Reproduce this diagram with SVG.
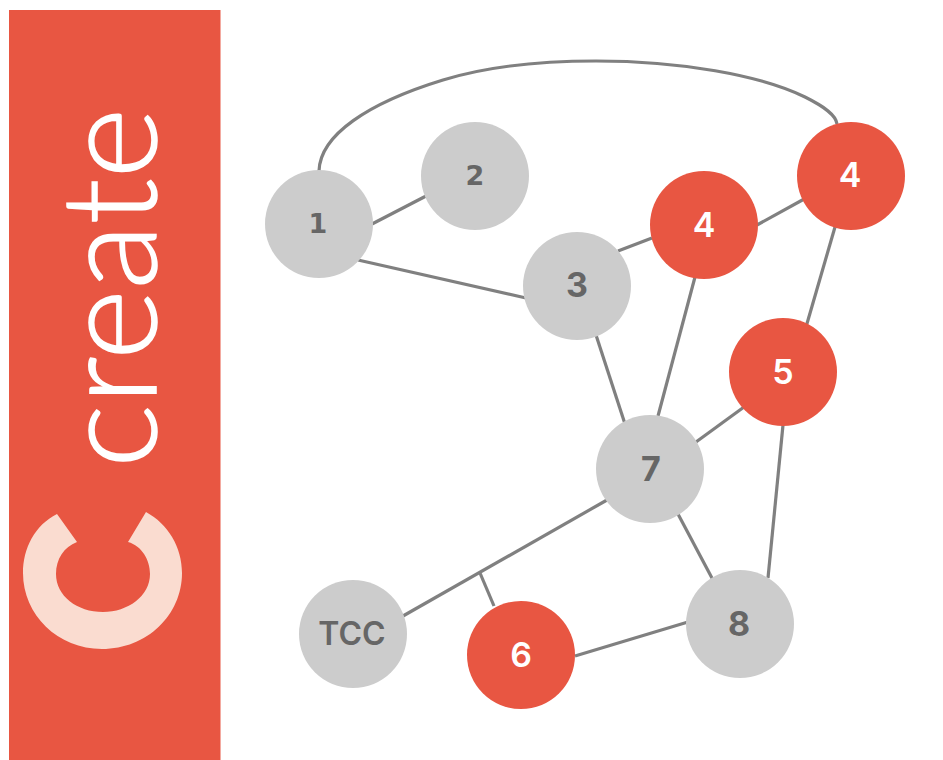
<svg xmlns="http://www.w3.org/2000/svg" width="943" height="760" viewBox="0 0 943 760">
<style>
.edge{fill:none;stroke:#808080;stroke-width:3.2}
.g{fill:#cccccc}
.r{fill:#e85642}
text{font-family:"Inter","Liberation Sans",sans-serif;text-anchor:middle}
.lg{fill:#666666;font-weight:700;font-size:34px}
.lr{fill:#ffffff;font-weight:600;font-size:34px}
.sm{font-family:"DejaVu Sans",sans-serif;font-size:27px}
</style>
<rect width="943" height="760" fill="#ffffff"/>
<rect x="9" y="10" width="211.500" height="750" fill="#e85642"/>
<text transform="translate(156 468) rotate(-90)" x="0" y="0" style="text-anchor:start;font-family:Lato,'Liberation Sans',sans-serif;font-weight:300;font-size:132px" fill="#ffffff" stroke="#ffffff" stroke-width="1.500" textLength="360" lengthAdjust="spacingAndGlyphs">create</text>
<path d="M57 514 C35 525 23 548 23 573 C23 615 58 649 102 649 C147 649 182 615 182 573 C182 547 168 524 146 512 L128 542 C142 546 150 560 150 574 C150 596 128 612 103 612 C77 612 56 596 56 574 C56 559 64 547 77 542 Z" fill="#fadcd0"/>
<g id="connectors">
<path class="edge" d="M319 171 C320 135 368 103 443 80 C485 67 540 61 596 61 C680 61 760 75 805 97 C825 107 836 115 837 124"/>
<path class="edge" d="M372 224 L428 195"/>
<path class="edge" d="M358 260 L526 298"/>
<path class="edge" d="M618 251 L652 238"/>
<path class="edge" d="M757 225 L806 198"/>
<path class="edge" d="M596 335 L625 424"/>
<path class="edge" d="M695 277 L658 416"/>
<path class="edge" d="M835 227 L806 327"/>
<path class="edge" d="M696 442 L744 407"/>
<path class="edge" d="M783 425 L768 578"/>
<path class="edge" d="M678 514 L713 580"/>
<path class="edge" d="M607 500 L403 616"/>
<path class="edge" d="M480 573 L494 606"/>
<path class="edge" d="M575 656 L688 622"/>
</g>
<g id="node-1"><circle class="g" cx="319" cy="224" r="54"/><text class="lg sm" x="318" y="233">1</text></g>
<g id="node-2"><circle class="g" cx="475" cy="176" r="54"/><text class="lg sm" x="475" y="185">2</text></g>
<g id="node-3"><circle class="g" cx="577" cy="286" r="54"/><text class="lg" x="577" y="297">3</text></g>
<g id="node-4a"><circle class="r" cx="704" cy="225" r="54"/><text class="lr" x="704" y="237">4</text></g>
<g id="node-4b"><circle class="r" cx="851" cy="176" r="54"/><text class="lr" x="850" y="187">4</text></g>
<g id="node-5"><circle class="r" cx="783" cy="372" r="54"/><text class="lr" x="783" y="384">5</text></g>
<g id="node-7"><circle class="g" cx="650" cy="469" r="54"/><text class="lg" x="651" y="481">7</text></g>
<g id="node-8"><circle class="g" cx="740" cy="624" r="54"/><text class="lg" x="739" y="636">8</text></g>
<g id="node-tcc"><circle class="g" cx="353" cy="634" r="54"/><text class="lg" x="352" y="645" style="font-weight:600;font-size:32px">TCC</text></g>
<g id="node-6"><circle class="r" cx="521" cy="655" r="54"/><text class="lr" x="521" y="667">6</text></g>
</svg>
